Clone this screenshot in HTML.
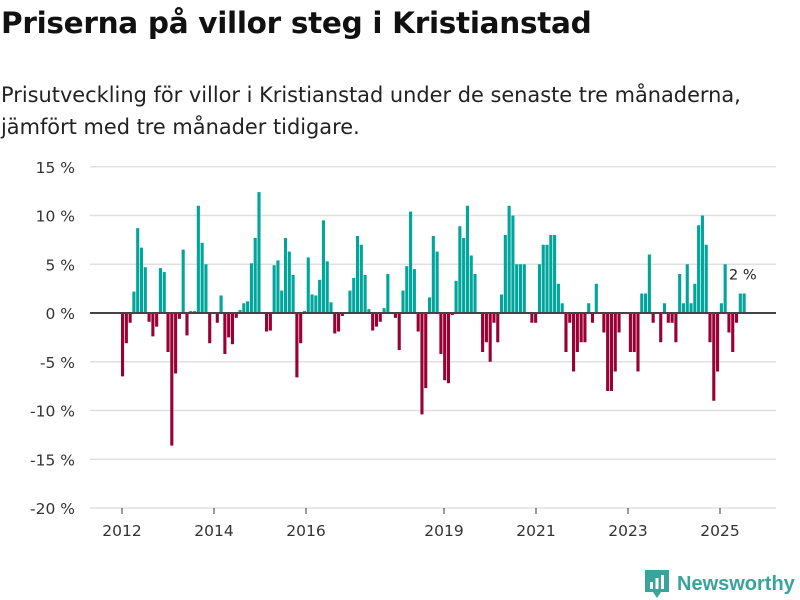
<!DOCTYPE html>
<html><head><meta charset="utf-8">
<style>
body{margin:0;width:800px;height:600px;background:#fff;font-family:"DejaVu Sans","Liberation Sans",sans-serif;overflow:hidden;position:relative}
h1{position:absolute;left:1px;top:6px;margin:0;font-size:29.5px;font-weight:bold;color:#111;letter-spacing:-0.3px}
p{position:absolute;left:1px;top:79px;margin:0;font-size:20.9px;line-height:32px;color:#222}
svg{position:absolute;left:0;top:0}
</style></head><body>
<h1>Priserna på villor steg i Kristianstad</h1>
<p>Prisutveckling för villor i Kristianstad under de senaste tre månaderna,<br>jämfört med tre månader tidigare.</p>
<svg id="c" width="800" height="600"></svg>
<script>
const startYear = 2012;
const values = [-6.5,-3.1,-1.0,2.2,8.7,6.7,4.7,-0.9,-2.4,-1.4,4.6,4.2,-4.0,-13.6,-6.2,-0.6,6.5,-2.3,0.2,0.2,11.0,7.2,5.0,-3.1,0,-1.0,1.8,-4.2,-2.5,-3.2,-0.5,0.3,1.0,1.2,5.1,7.7,12.4,0,-1.9,-1.8,4.9,5.4,
2.3,7.7,6.3,3.9,-6.6,-3.1,0.2,5.7,1.9,1.8,3.4,9.5,5.3,1.1,-2.1,-1.9,-0.3,0,2.3,3.6,7.9,7.0,3.9,0.4,-1.8,-1.4,-0.9,0.5,4.0,0,-0.5,-3.8,2.3,4.8,10.4,4.5,-1.9,-10.4,-7.7,1.6,7.9,6.3,
-4.2,-6.9,-7.2,-0.2,3.3,8.9,7.7,11.0,5.9,4.0,0,-4.0,-3.0,-5.0,-1.0,-3.0,1.9,8.0,11.0,10.0,5.0,5.0,5.0,0,-1.0,-1.0,5.0,7.0,7.0,8.0,8.0,3.0,1.0,-4.0,-1.0,-6.0,-4.0,-3.0,-3.0,1.0,-1.0,3.0,
0,-2,-8,-8,-6,-2,0,0,-4,-4,-6,2,2,6,-1,0,-3,1,-1,-1,-3,4,1,5,1,3,9,10,7,-3,-9,-6,1,5,-2,-4,-1,2,2];
const yTicks = [15,10,5,0,-5,-10,-15,-20];
const xTickYears = [2012,2014,2016,2019,2021,2023,2025];
const lastLabel = "2 %";
const NS="http://www.w3.org/2000/svg", svg=document.getElementById('c');
const FONT='DejaVu Sans, Liberation Sans, sans-serif';
const y = v => 313 - v*9.75;
const x = i => 122.5 + i*3.79;
const xYear = yr => 122 + (yr-startYear)*46;
function mk(t,a){const e=document.createElementNS(NS,t);for(const k in a)e.setAttribute(k,a[k]);svg.appendChild(e);return e;}
yTicks.forEach(v=>{
  const g=mk('line',{x1:90,x2:776,y1:y(v),y2:y(v),stroke:'#e0e0e0','stroke-width':1.5});
  
  
  const t=mk('text',{x:75,y:y(v)+6,'text-anchor':'end','font-size':15.5,fill:'#333','font-family':FONT});
  t.textContent=v+' %';
  
  
});
values.forEach((v,i)=>{
  const r=mk('rect',{x:x(i)-1.5,width:3.1,y:Math.min(y(v),313),height:Math.abs(y(v)-313),fill:v>=0?'#00a59b':'#990033'});
  
  
});
const z=mk('line',{x1:90,x2:776,y1:313,y2:313,stroke:'#444','stroke-width':2});


xTickYears.forEach(yr=>{
  const l=mk('line',{x1:xYear(yr),x2:xYear(yr),y1:508,y2:514,stroke:'#333','stroke-width':1});
  
  
  const t=mk('text',{x:xYear(yr),y:536,'text-anchor':'middle','font-size':15.5,fill:'#333','font-family':FONT});
  t.textContent=yr;
  
  
});
const li=values.length-1;
const lb=mk('text',{x:x(li)-15,y:y(values[li])-14,'font-size':14.5,fill:'#222','font-family':FONT});
lb.textContent=lastLabel;


</script>
<div style="position:absolute;left:645px;top:570px;display:flex;align-items:center">
<svg width="24" height="28" viewBox="0 0 24 28" style="position:static"><path d="M0 0h24v22h-8l-4 6-4-6H0z" fill="#3aa39b"/><rect x="5" y="12" width="3" height="7" fill="#fff"/><rect x="10.5" y="8" width="3" height="11" fill="#fff"/><rect x="16" y="5" width="3" height="14" fill="#fff"/></svg>
<span style="margin-left:8px;font-size:20px;font-weight:bold;color:#3aa39b;font-family:'Liberation Sans',sans-serif">Newsworthy</span></div>
</body></html>
